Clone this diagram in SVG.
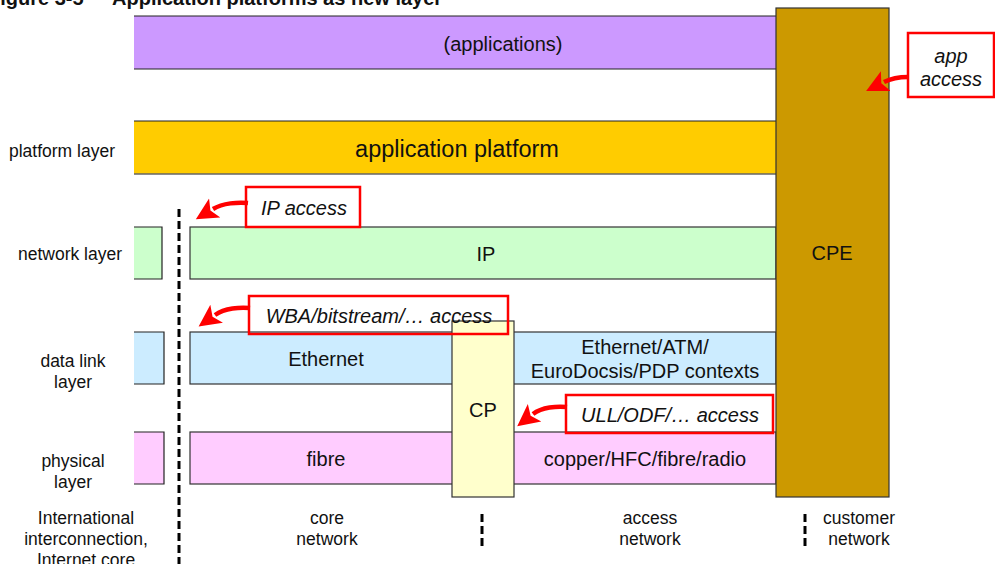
<svg xmlns="http://www.w3.org/2000/svg" width="995" height="564" viewBox="0 0 995 564">
  <style>
    text { font-family: "Liberation Sans", Arial, sans-serif; fill: #111; }
    .title { font-weight: bold; font-size: 20px; }
    .lbl { font-size: 17.5px; text-anchor: middle; }
    .bar { font-size: 20px; text-anchor: middle; }
    .call { font-size: 20px; font-style: italic; text-anchor: middle; }
    .edge { stroke: #222; stroke-width: 1.2; }
    .box { stroke: #333; stroke-width: 1.2; }
    .callbox { fill: none; stroke: #FF0000; stroke-width: 2.5; }
    .arrow { fill: none; stroke: #FF0000; stroke-width: 4.5; marker-end: url(#redHead); }
    .dash { stroke: #000; stroke-width: 3; stroke-dasharray: 8 4; }
  </style>
  <defs>
    <marker id="redHead" markerUnits="userSpaceOnUse" viewBox="0 -12 24 24" refX="2" refY="0" markerWidth="24" markerHeight="24" orient="auto">
      <path d="M0,-11 L22,0 L0,11 L5,0 Z" fill="#FF0000"/>
    </marker>
  </defs>

  <rect width="995" height="564" fill="#FFFFFF"/>

  <!-- caption, partly above the top edge -->
  <text class="title" x="-12" y="5">Figure 3-5</text>
  <text class="title" x="112" y="5">Application platforms as new layer</text>

  <!-- layer labels -->
  <text class="lbl" x="62" y="157">platform layer</text>
  <text class="lbl" x="70" y="260">network layer</text>
  <text class="lbl" x="73" y="367">data link</text>
  <text class="lbl" x="73" y="388">layer</text>
  <text class="lbl" x="73" y="467">physical</text>
  <text class="lbl" x="73" y="488">layer</text>

  <!-- domain labels -->
  <text class="lbl" x="86" y="524">International</text>
  <text class="lbl" x="86" y="545">interconnection,</text>
  <text class="lbl" x="86" y="566">Internet core</text>
  <text class="lbl" x="327" y="524">core</text>
  <text class="lbl" x="327" y="545">network</text>
  <text class="lbl" x="650" y="524">access</text>
  <text class="lbl" x="650" y="545">network</text>
  <text class="lbl" x="859" y="524">customer</text>
  <text class="lbl" x="859" y="545">network</text>

  <!-- applications layer -->
  <g id="applications">
    <rect x="134" y="16" width="642" height="53" fill="#CC99FF"/>
    <line class="edge" x1="134" y1="16" x2="776" y2="16"/>
    <line class="edge" x1="134" y1="69" x2="776" y2="69"/>
    <text class="bar" x="503" y="51">(applications)</text>
  </g>

  <!-- platform layer -->
  <g id="platform">
    <rect x="134" y="121" width="642" height="53" fill="#FFCC00"/>
    <line class="edge" x1="134" y1="121" x2="776" y2="121"/>
    <line x1="134" y1="174" x2="776" y2="174" stroke="#666" stroke-width="1.5"/>
    <text class="bar" x="457" y="157" style="font-size:23.5px">application platform</text>
  </g>

  <!-- left stubs (interconnection side) -->
  <g id="stub-network">
    <path d="M134,227 H162 V279 H134" fill="#CCFFCC" class="edge"/>
  </g>
  <g id="stub-datalink">
    <path d="M134,332 H164 V384 H134" fill="#CCECFF" class="edge"/>
  </g>
  <g id="stub-physical">
    <path d="M134,432 H164 V484 H134" fill="#FFCCFF" class="edge"/>
  </g>

  <!-- network layer -->
  <g id="ip">
    <rect x="190" y="227" width="586" height="52" fill="#CCFFCC" class="box"/>
    <text class="bar" x="486" y="261">IP</text>
  </g>

  <!-- data link layer -->
  <g id="datalink">
    <rect x="190" y="332" width="586" height="52" fill="#CCECFF" class="box"/>
    <text class="bar" x="326" y="366">Ethernet</text>
    <text class="bar" x="645" y="354">Ethernet/ATM/</text>
    <text class="bar" x="645" y="378">EuroDocsis/PDP contexts</text>
  </g>

  <!-- physical layer -->
  <g id="physical">
    <rect x="190" y="432" width="586" height="52" fill="#FFCCFF" class="box"/>
    <text class="bar" x="326" y="466">fibre</text>
    <text class="bar" x="645" y="466">copper/HFC/fibre/radio</text>
  </g>

  <!-- concentration point -->
  <g id="cp">
    <rect x="452" y="321" width="62" height="176" fill="#FFFFCC" class="box"/>
    <text class="bar" x="483" y="417">CP</text>
  </g>

  <!-- customer premises equipment -->
  <g id="cpe">
    <rect x="776" y="8" width="113" height="489" fill="#CC9900" class="box"/>
    <text class="bar" x="832" y="260">CPE</text>
  </g>

  <!-- domain boundaries -->
  <g id="boundaries">
    <line class="dash" x1="179" y1="209" x2="179" y2="564"/>
    <line class="dash" x1="482" y1="514" x2="482" y2="548"/>
    <line class="dash" x1="805" y1="514" x2="805" y2="548"/>
  </g>

  <!-- access callouts -->
  <g id="call-ip">
    <rect class="callbox" x="246" y="187" width="114" height="40" fill="#FFFFFF"/>
    <text class="call" x="304" y="215">IP access</text>
  </g>
  <g id="call-wba">
    <rect class="callbox" x="249" y="296" width="259" height="38"/>
    <text class="call" x="379" y="323">WBA/bitstream/… access</text>
  </g>
  <g id="call-ull">
    <rect class="callbox" x="566" y="395" width="207" height="38"/>
    <text class="call" x="670" y="422">ULL/ODF/… access</text>
  </g>
  <g id="call-app">
    <rect class="callbox" x="908" y="33" width="86" height="64"/>
    <text class="call" x="951" y="63">app</text>
    <text class="call" x="951" y="86">access</text>
  </g>

  <!-- callout arrows -->
  <g id="connectors">
    <path class="arrow" d="M248,203 C238,202 223,203 213,209"/>
    <path class="arrow" d="M250,308 C240,307 225,308 215,315"/>
    <path class="arrow" d="M567,407 C557,406 542,407 533,414"/>
    <path class="arrow" d="M908,77 C900,77 892,78 884,82"/>
  </g>
</svg>
